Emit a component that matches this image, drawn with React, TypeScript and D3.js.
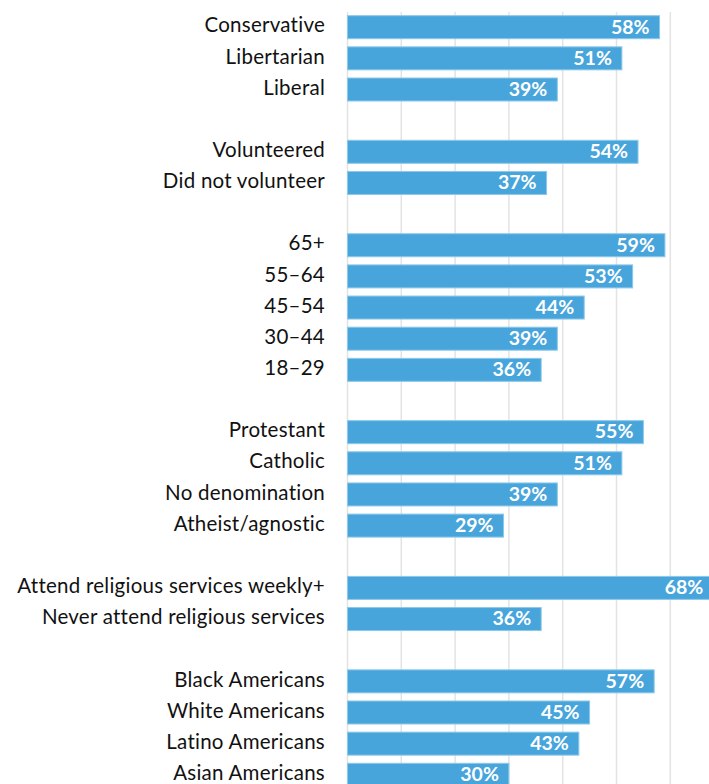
import React from "react";
import * as d3 from "d3";

const categories = [
  "Conservative", "Libertarian", "Liberal", "",
  "Volunteered", "Did not volunteer", "",
  "65+", "55–64", "45–54", "30–44", "18–29", "",
  "Protestant", "Catholic", "No denomination", "Atheist/agnostic", "",
  "Attend religious services weekly+", "Never attend religious services", "",
  "Black Americans", "White Americans", "Latino Americans", "Asian Americans",
];
const values: (number | null)[] = [
  58, 51, 39, null,
  54, 37, null,
  59, 53, 44, 39, 36, null,
  55, 51, 39, 29, null,
  68, 36, null,
  57, 45, 43, 30,
];
const gridTicks = [0, 10, 20, 30, 40, 50, 60];

const W = 709;
const H = 784;
const x0 = 347.5;
const pxPerPct = 5.38;
const rowStep = 31.15;
const firstCenter = 27.2;
const barH = 23;
const font = "Lato, 'Open Sans', sans-serif";

export default function App() {
  const x = d3.scaleLinear().domain([0, 100]).range([x0, x0 + pxPerPct * 100]);
  const idx = categories.map((_, i) => String(i));
  const y = d3
    .scalePoint<string>()
    .domain(idx)
    .range([firstCenter, firstCenter + rowStep * (categories.length - 1)]);

  return (
    <svg
      width={W}
      height={H}
      style={{ position: "absolute", left: 0, top: 0, display: "block", background: "#fff" }}
    >
      {gridTicks.map((t) => (
        <line
          key={t}
          x1={x(t)}
          x2={x(t)}
          y1={12}
          y2={H}
          stroke="#e3e3e3"
          strokeWidth={1.5}
        />
      ))}
      {categories.map((c, i) => {
        const v = values[i];
        const cy = y(String(i))!;
        if (v == null) return null;
        return (
          <g key={i}>
            <rect
              x={x(0)}
              y={cy - barH / 2}
              width={x(v) - x(0)}
              height={barH}
              fill="#47a5db"
              stroke="#8cc8ea"
              strokeWidth={1}
            />
            <text
              x={x(v) - 10}
              y={cy - 0.5}
              dy="0.35em"
              textAnchor="end"
              fill="#fff"
              fontWeight="bold"
              fontSize={19.5}
              fontFamily={font}
            >
              {v}%
            </text>
            <text
              x={325}
              y={cy - 2}
              dy="0.35em"
              textAnchor="end"
              fill="#111"
              fontSize={20.5}
              letterSpacing={0.25}
              fontFamily={font}
            >
              {c}
            </text>
          </g>
        );
      })}
    </svg>
  );
}
